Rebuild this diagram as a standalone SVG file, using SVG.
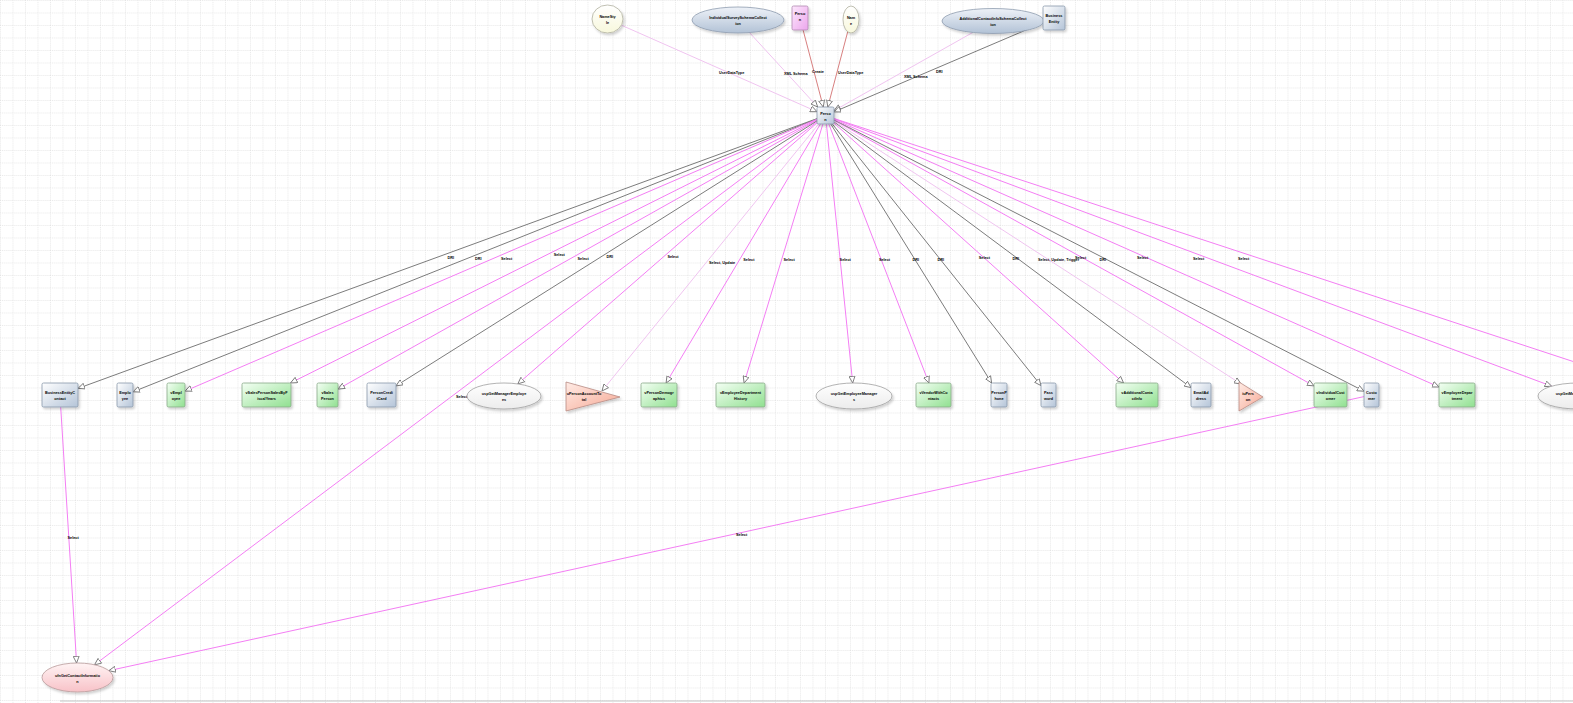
<svg xmlns="http://www.w3.org/2000/svg" width="1573" height="703" viewBox="0 0 1573 703">
<defs>
<pattern id="grid" width="12.5" height="12.5" patternUnits="userSpaceOnUse">
<path d="M0,0.5 H12.5 M0.5,0 V12.5" fill="none" stroke="#e2e2e2" stroke-width="0.8" stroke-dasharray="1,1"/>
</pattern>
<linearGradient id="gBlue" x1="0" y1="0" x2="1" y2="1"><stop offset="0" stop-color="#ffffff"/><stop offset="1" stop-color="#b4c4d8"/></linearGradient>
<linearGradient id="gGreen" x1="0" y1="0" x2="1" y2="1"><stop offset="0" stop-color="#f4fff4"/><stop offset="1" stop-color="#90e090"/></linearGradient>
<linearGradient id="gPinkR" x1="0" y1="0" x2="1" y2="1"><stop offset="0" stop-color="#fde8fd"/><stop offset="1" stop-color="#eca6ec"/></linearGradient>
<linearGradient id="gWhite" x1="0" y1="0" x2="0" y2="1"><stop offset="0" stop-color="#ffffff"/><stop offset="1" stop-color="#ececec"/></linearGradient>
<linearGradient id="gYellow" x1="0" y1="0" x2="0" y2="1"><stop offset="0" stop-color="#ffffff"/><stop offset="1" stop-color="#f8f8dc"/></linearGradient>
<linearGradient id="gEllBlue" x1="0" y1="0" x2="0" y2="1"><stop offset="0" stop-color="#eef2f8"/><stop offset="1" stop-color="#b2c2d6"/></linearGradient>
<linearGradient id="gEllPink" x1="0" y1="0" x2="0" y2="1"><stop offset="0" stop-color="#fff4f4"/><stop offset="1" stop-color="#f8c2c8"/></linearGradient>
<linearGradient id="gTri" x1="0" y1="0" x2="1" y2="1"><stop offset="0" stop-color="#ffece6"/><stop offset="1" stop-color="#f6a894"/></linearGradient>
<filter id="sh" x="-20%" y="-20%" width="150%" height="160%"><feDropShadow dx="1.5" dy="2" stdDeviation="1.2" flood-color="#000" flood-opacity="0.18"/></filter>
<marker id="arr" viewBox="0 0 10 10" refX="10" refY="5" markerWidth="7" markerHeight="7" orient="auto" markerUnits="userSpaceOnUse">
<path d="M0.5,0.8 L10,5 L0.5,9.2 z" fill="#ffffff" stroke="#707070" stroke-width="1.2"/>
</marker>
<style>
.e{fill:none;stroke-width:1;marker-end:url(#arr)}
.dri{stroke:#7c7c7c}
.sel{stroke:#f47ef4}
.fad{stroke:#f0c4f0}
.red{stroke:#d88080}
.lbl{font-family:"Liberation Sans",Arial,sans-serif;font-size:3.8px;font-weight:bold;fill:#000}
.nt{font-family:"Liberation Sans",Arial,sans-serif;font-size:3.8px;font-weight:bold;fill:#000;text-anchor:middle}
.rb{fill:url(#gBlue);stroke:#8898aa;stroke-width:0.8;filter:url(#sh)}
.rg{fill:url(#gGreen);stroke:#88a888;stroke-width:0.8;filter:url(#sh)}
.rp{fill:url(#gPinkR);stroke:#b088b0;stroke-width:0.8;filter:url(#sh)}
.ew{fill:url(#gWhite);stroke:#a0a0a0;stroke-width:0.8;filter:url(#sh)}
.ey{fill:url(#gYellow);stroke:#b0b0a0;stroke-width:0.8;filter:url(#sh)}
.eb{fill:url(#gEllBlue);stroke:#8e9cae;stroke-width:0.8;filter:url(#sh)}
.ep{fill:url(#gEllPink);stroke:#b89a9a;stroke-width:0.8;filter:url(#sh)}
.tr{fill:url(#gTri);stroke:#b88c84;stroke-width:0.8;filter:url(#sh)}
</style>
</defs>
<rect width="1573" height="703" fill="#ffffff"/>
<rect width="1573" height="703" fill="url(#grid)"/>
<line x1="60" y1="701" x2="1573" y2="701" stroke="#c4c4c4" stroke-width="1"/>

<g id="connectors">
<line class="e fad" x1="621.4" y1="25.2" x2="817" y2="111.7"/>
<line class="e fad" x1="749.5" y1="32.6" x2="817.7" y2="107"/>
<line class="e red" x1="803.1" y1="30" x2="823.3" y2="107"/>
<line class="e red" x1="847.7" y1="31.8" x2="827.8" y2="107"/>
<line class="e fad" x1="972.7" y1="32.5" x2="834" y2="110.7"/>
<line class="e dri" x1="1043" y1="22.7" x2="834" y2="111.9"/>
<line class="e dri" x1="817" y1="118.6" x2="78" y2="388.4"/>
<line class="e dri" x1="817" y1="118.9" x2="133" y2="391.8"/>
<line class="e sel" x1="817" y1="119.2" x2="185" y2="391.1"/>
<line class="e sel" x1="817" y1="119.7" x2="290.5" y2="383"/>
<line class="e sel" x1="817" y1="120.3" x2="338" y2="389.1"/>
<line class="e dri" x1="817" y1="120.9" x2="396" y2="385.9"/>
<line class="e sel" x1="817" y1="122.9" x2="517.8" y2="383.9"/>
<line class="e fad" x1="818.6" y1="124" x2="602" y2="391"/>
<line class="e sel" x1="820.4" y1="124" x2="666.1" y2="383"/>
<line class="e sel" x1="822.9" y1="124" x2="744.1" y2="383"/>
<line class="e sel" x1="826.4" y1="124" x2="852.7" y2="383"/>
<line class="e sel" x1="828.8" y1="124" x2="928.9" y2="383"/>
<line class="e dri" x1="830.8" y1="124" x2="991.6" y2="383"/>
<line class="e dri" x1="832.3" y1="124" x2="1041" y2="385.6"/>
<line class="e sel" x1="834" y1="123.1" x2="1123.6" y2="383"/>
<line class="e dri" x1="834" y1="121.8" x2="1191" y2="387.6"/>
<line class="e fad" x1="834" y1="121" x2="1241" y2="384"/>
<line class="e sel" x1="834" y1="120.2" x2="1314" y2="385.9"/>
<line class="e dri" x1="834" y1="119.9" x2="1364" y2="391.2"/>
<line class="e sel" x1="834" y1="119.3" x2="1439" y2="387"/>
<line class="e sel" x1="834" y1="118.7" x2="1551.7" y2="386.2"/>
<line class="e sel" x1="834" y1="118.5" x2="1640" y2="383.5"/>
<line class="e sel" x1="817" y1="121.9" x2="94.5" y2="664.8"/>
<line class="e sel" x1="60.7" y1="407" x2="76.6" y2="663"/>
<line class="e sel" x1="1364" y1="396.6" x2="108.8" y2="670.7"/>
<g id="edge-labels">
<text class="lbl" x="719" y="74">UserDataType</text>
<text class="lbl" x="784" y="75">XML Schema</text>
<text class="lbl" x="812" y="73">Create</text>
<text class="lbl" x="838" y="74">UserDataType</text>
<text class="lbl" x="904" y="78">XML Schema</text>
<text class="lbl" x="936" y="72.5">DRI</text>
<text class="lbl" x="447.5" y="258.5">DRI</text>
<text class="lbl" x="475" y="260.4">DRI</text>
<text class="lbl" x="501" y="260.2">Select</text>
<text class="lbl" x="553.7" y="256.4">Select</text>
<text class="lbl" x="577.5" y="259.7">Select</text>
<text class="lbl" x="606.5" y="258.4">DRI</text>
<text class="lbl" x="667.4" y="258.4">Select</text>
<text class="lbl" x="709" y="264">Select, Update</text>
<text class="lbl" x="743.3" y="260.5">Select</text>
<text class="lbl" x="783.5" y="260.5">Select</text>
<text class="lbl" x="839.6" y="260.5">Select</text>
<text class="lbl" x="878.9" y="260.5">Select</text>
<text class="lbl" x="912.5" y="260.5">DRI</text>
<text class="lbl" x="937.5" y="260.5">DRI</text>
<text class="lbl" x="978.8" y="258.5">Select</text>
<text class="lbl" x="1012.5" y="259.7">DRI</text>
<text class="lbl" x="1038" y="260.5">Select, Update, Trigger</text>
<text class="lbl" x="1075" y="258.5">Select</text>
<text class="lbl" x="1099.5" y="260.5">DRI</text>
<text class="lbl" x="1137" y="258.5">Select</text>
<text class="lbl" x="1193" y="259.5">Select</text>
<text class="lbl" x="1238" y="259.5">Select</text>
<text class="lbl" x="456" y="397.5">Select</text>
<text class="lbl" x="67.5" y="539">Select</text>
<text class="lbl" x="736" y="535.5">Select</text>
</g>
</g>

<g id="node-namestyle"><ellipse class="ey" cx="607.5" cy="19" rx="15.5" ry="14"/><text class="nt" x="607.5" y="18.3">NameSty</text><text class="nt" x="607.5" y="24">le</text></g>
<g id="node-individualsurvey"><ellipse class="eb" cx="738" cy="20" rx="46" ry="13"/><text class="nt" x="738" y="19.3">IndividualSurveySchemaCollect</text><text class="nt" x="738" y="25">ion</text></g>
<g id="node-person-schema"><rect class="rp" x="792" y="6" width="16" height="24" rx="1.5"/><text class="nt" x="800" y="15">Perso</text><text class="nt" x="800" y="20.5">n</text></g>
<g id="node-name"><ellipse class="ey" cx="851" cy="19.5" rx="8" ry="13.5"/><text class="nt" x="851" y="18.8">Nam</text><text class="nt" x="851" y="24.5">e</text></g>
<g id="node-additionalcontact"><ellipse class="eb" cx="993" cy="21" rx="51" ry="12.5"/><text class="nt" x="993" y="20.3">AdditionalContactInfoSchemaCollect</text><text class="nt" x="993" y="26">ion</text></g>
<g id="node-businessentity"><rect class="rb" x="1043" y="6" width="22" height="24" rx="1.5"/><text class="nt" x="1054" y="17.3">Business</text><text class="nt" x="1054" y="23">Entity</text></g>
<g id="node-person"><rect class="rb" x="817" y="107" width="17" height="17" rx="1.5"/><text class="nt" x="825.5" y="114.8">Perso</text><text class="nt" x="825.5" y="120.5">n</text></g>

<g id="node-businessentitycontact"><rect class="rb" x="42" y="383" width="36" height="24" rx="1.5"/><text class="nt" x="60" y="394.3">BusinessEntityC</text><text class="nt" x="60" y="400">ontact</text></g>
<g id="node-employee"><rect class="rb" x="117" y="383" width="16" height="24" rx="1.5"/><text class="nt" x="125" y="394.3">Emplo</text><text class="nt" x="125" y="400">yee</text></g>
<g id="node-vemployee"><rect class="rg" x="167" y="383" width="18" height="24" rx="1.5"/><text class="nt" x="176" y="394.3">vEmpl</text><text class="nt" x="176" y="400">oyee</text></g>
<g id="node-vsalespersonsalesbyfiscalyears"><rect class="rg" x="242" y="383" width="49" height="24" rx="1.5"/><text class="nt" x="266.5" y="394.3">vSalesPersonSalesByF</text><text class="nt" x="266.5" y="400">iscalYears</text></g>
<g id="node-vsalesperson"><rect class="rg" x="317" y="383" width="21" height="24" rx="1.5"/><text class="nt" x="327.5" y="394.3">vSales</text><text class="nt" x="327.5" y="400">Person</text></g>
<g id="node-personcreditcard"><rect class="rb" x="367" y="383" width="29" height="24" rx="1.5"/><text class="nt" x="381.5" y="394.3">PersonCredi</text><text class="nt" x="381.5" y="400">tCard</text></g>
<g id="node-uspgetmanageremployees"><ellipse class="ew" cx="504" cy="396" rx="37" ry="13"/><text class="nt" x="504" y="395.3">uspGetManagerEmploye</text><text class="nt" x="504" y="401">es</text></g>
<g id="node-trigger1"><path class="tr" d="M566,382 L620,397 L566,411 Z"/><text class="nt" x="584" y="395.3">uPersonAccountTo</text><text class="nt" x="584" y="401">tal</text></g>
<g id="node-vpersondemographics"><rect class="rg" x="641" y="383" width="36" height="24" rx="1.5"/><text class="nt" x="659" y="394.3">vPersonDemogr</text><text class="nt" x="659" y="400">aphics</text></g>
<g id="node-vemployeedepartmenthistory"><rect class="rg" x="716" y="383" width="49" height="24" rx="1.5"/><text class="nt" x="740.5" y="394.3">vEmployeeDepartment</text><text class="nt" x="740.5" y="400">History</text></g>
<g id="node-uspgetemployeemanagers"><ellipse class="ew" cx="854" cy="396" rx="38" ry="13"/><text class="nt" x="854" y="395.3">uspGetEmployeeManager</text><text class="nt" x="854" y="401">s</text></g>
<g id="node-vvendorwithcontacts"><rect class="rg" x="916" y="383" width="35" height="24" rx="1.5"/><text class="nt" x="933.5" y="394.3">vVendorWithCo</text><text class="nt" x="933.5" y="400">ntacts</text></g>
<g id="node-personphone"><rect class="rb" x="991" y="383" width="16" height="24" rx="1.5"/><text class="nt" x="999" y="394.3">PersonP</text><text class="nt" x="999" y="400">hone</text></g>
<g id="node-password"><rect class="rb" x="1041" y="383" width="15" height="24" rx="1.5"/><text class="nt" x="1048.5" y="394.3">Pass</text><text class="nt" x="1048.5" y="400">word</text></g>
<g id="node-vadditionalcontactinfo"><rect class="rg" x="1116" y="383" width="42" height="24" rx="1.5"/><text class="nt" x="1137" y="394.3">vAdditionalConta</text><text class="nt" x="1137" y="400">ctInfo</text></g>
<g id="node-emailaddress"><rect class="rb" x="1191" y="383" width="20" height="24" rx="1.5"/><text class="nt" x="1201" y="394.3">EmailAd</text><text class="nt" x="1201" y="400">dress</text></g>
<g id="node-iuperson"><path class="tr" d="M1239,382 L1263,397 L1239,411 Z"/><text class="nt" x="1248" y="395.3">iuPers</text><text class="nt" x="1248" y="401">on</text></g>
<g id="node-vindividualcustomer"><rect class="rg" x="1314" y="383" width="33" height="24" rx="1.5"/><text class="nt" x="1330.5" y="394.3">vIndividualCust</text><text class="nt" x="1330.5" y="400">omer</text></g>
<g id="node-customer"><rect class="rb" x="1364" y="383" width="15" height="24" rx="1.5"/><text class="nt" x="1371.5" y="394.3">Custo</text><text class="nt" x="1371.5" y="400">mer</text></g>
<g id="node-vemployeedepartment"><rect class="rg" x="1439" y="383" width="36" height="24" rx="1.5"/><text class="nt" x="1457" y="394.3">vEmployeeDepar</text><text class="nt" x="1457" y="400">tment</text></g>
<g id="node-uspget-right"><ellipse class="ew" cx="1578" cy="396" rx="40" ry="13"/><text class="nt" x="1578" y="395.3">uspGetManagerEmploye</text><text class="nt" x="1578" y="401">es1</text></g>
<g id="node-ufngetcontactinformation"><ellipse class="ep" cx="77.5" cy="677.5" rx="35.5" ry="14.5"/><text class="nt" x="77.5" y="676.8">ufnGetContactInformatio</text><text class="nt" x="77.5" y="682.5">n</text></g>
</svg>
